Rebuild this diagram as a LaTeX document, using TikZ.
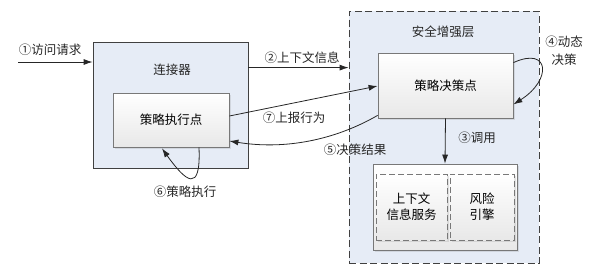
\documentclass[tikz,border=0pt]{standalone}
\usepackage{fontspec}
\newfontfamily\cjk{Noto Sans CJK SC}
\usepackage{tikz}
\usetikzlibrary{
    arrows.meta,
    positioning,
    calc,
    shadows
}
\usepackage{xcolor}
\definecolor{layerblue}{RGB}{230,236,246}
\definecolor{boxgray}{RGB}{120,120,120}
\tikzstyle{layer} = [
    rectangle,
    draw=black!75,
    fill=layerblue,
    line width=0.8pt
]
\tikzstyle{module} = [
    rectangle,
    draw=boxgray,
    top color=white,
    bottom color=black!9,
    drop shadow={opacity=0.2, shadow xshift=2pt, shadow yshift=-2pt},
    line width=0.8pt,
    align=center,
    font=\cjk\fontsize{12.5}{16}\selectfont
]
\tikzstyle{tag} = [
    align=center,
    text=black!85,
    font=\cjk\fontsize{12.5}{18}\selectfont
]
\tikzstyle{arrow} = [
    -{Latex[length=9pt,width=6pt]},
    line width=0.8pt,
    draw=black!85
]

\begin{document}
\begin{tikzpicture}[x=1pt, y=-1pt]
        \useasboundingbox (0,0) rectangle (594,277);
        % Layers
        \node[layer, minimum width=155pt, minimum height=126pt] (conn) at (170.5,105) {};
        \node[tag] (conntitle) at (172,70) {连接器};
        \node[layer, dashed, dash pattern=on 7pt off 3.5pt, minimum width=190pt, minimum height=252pt] (layer) at (444,137) {};
        \node[tag] (layertitle) at (443,32) {安全增强层};

        % Nodes
        \node[module, minimum width=116pt, minimum height=54pt] (pep) at (171,120) {策略执行点};
        \node[module, minimum width=135pt, minimum height=65pt] (pdp) at (445.5,85.5) {策略决策点};
        \node[module, minimum width=144pt, minimum height=86pt] (svc) at (445,207) {};
        \node[module, dashed, dash pattern=on 6pt off 3pt, drop shadow={opacity=0}, minimum width=71pt, minimum height=66pt] (ctx) at (411.5,207) {上下文\\信息服务};
        \node[module, dashed, dash pattern=on 6pt off 3pt, drop shadow={opacity=0}, minimum width=64pt, minimum height=66pt] (risk) at (482,207) {风险\\引擎};

        % Arrows
        \coordinate (req) at (18,62);
        \draw[arrow] (req) -- (req -| conn.west);
        \node[tag] (reqlabel) at (50,50) {①访问请求};

        \coordinate (ctxout) at ($(conn.north east)+(0,26)$);
        \draw[arrow] (ctxout) -- (ctxout -| layer.west);
        \node[tag] (ctxlabel) at (302,58) {②上下文信息};

        \draw[arrow] (pdp.south) -- (svc.north);
        \node[tag] (calllabel) at (477,138) {③调用};

        \draw[arrow] ($(pdp.north east)+(0,10)$) .. controls (550,46) and (552,80) .. ($(pdp.south east)+(0,-14)$);
        \node[tag] (dynlabel) at (564,51) {④动态\\决策};

        \draw[arrow] ($(pdp.south west)+(0,-3)$) .. controls (335,140) and (285,150) .. ($(pep.east)+(0,21)$);
        \node[tag] (reslabel) at (355,150) {⑤决策结果};

        \draw[arrow] ($(pep.south)+(28,0)$) .. controls (201,194) and (186,182) .. ($(pep.south)+(-9,1)$);
        \node[tag] (execlabel) at (185,192) {⑥策略执行};

        \draw[arrow] ($(pep.east)+(0,-4)$) -- ($(pdp.west)+(0,0.5)$);
        \node[tag] (replabel) at (294,118) {⑦上报行为};
    \end{tikzpicture}
\end{document}
